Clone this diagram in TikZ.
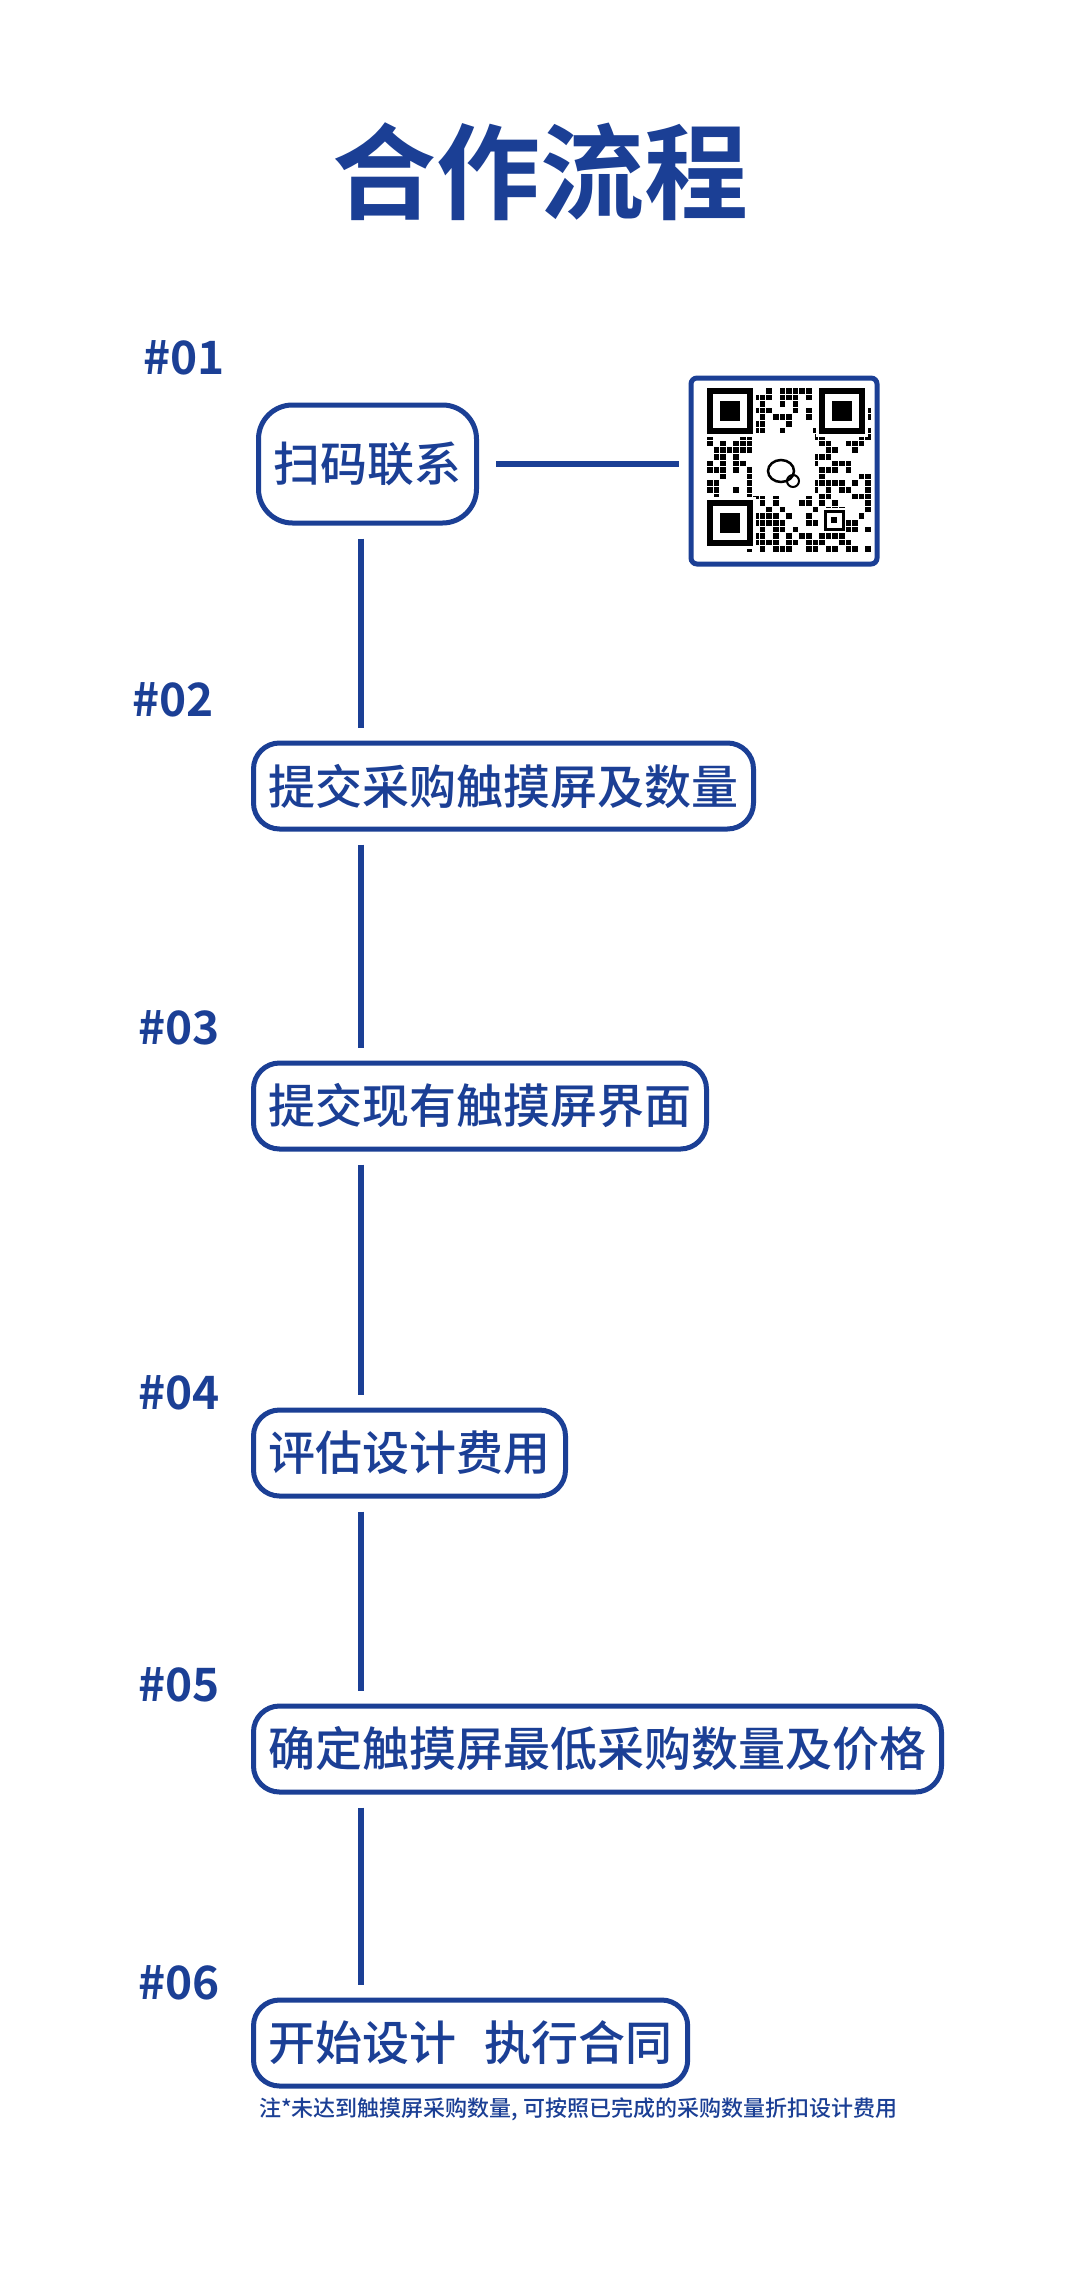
\documentclass[tikz,border=0pt]{standalone}
\usepackage{fontspec}
\setmainfont{Noto Sans CJK SC Medium}
\newfontfamily\cjkbold{Noto Sans CJK SC Bold}
\usetikzlibrary{calc,positioning}
\definecolor{navy}{HTML}{1B3F95}
\tikzset{
  stage/.style={draw=navy, line width=5pt, rounded corners=26pt, text=navy,
    font=\fontsize{47}{50}\selectfont, inner xsep=15pt, anchor=west, minimum height=86pt},
  num/.style={text=navy, font=\cjkbold\fontsize{46}{50}\selectfont, inner sep=0pt},
  link/.style={draw=navy, line width=6pt, shorten >=13pt, shorten <=13pt}
}
\begin{document}
\begin{tikzpicture}[x=1pt,y=-1pt]
\useasboundingbox[fill=white] (0,0) rectangle (1080,2282);
\coordinate (L) at (361,0);

\node[text=navy, font=\cjkbold\fontsize{104}{110}\selectfont] (title) at (540,172) {合作流程};

% stages
\node[stage, minimum height=118pt, minimum width=212pt, rounded corners=34pt] (s1) at (256,464) {扫码联系};
\node[stage] (s2) at (251,786) {提交采购触摸屏及数量};
\node[stage] (s3) at (251,1106) {提交现有触摸屏界面};
\node[stage] (s4) at (251,1453) {评估设计费用};
\node[stage] (s5) at (251,1749) {确定触摸屏最低采购数量及价格};
\node[stage] (s6) at (251,2043) {开始设计\hspace{0.6em}执行合同};

\foreach \i/\x/\y in {1/184/358, 2/173/700, 3/179/1028, 4/179/1393, 5/179/1685, 6/179/1983}{
  \node[num] (n\i) at (\x,\y) {\#0\i};
}

\node[text=navy, font=\fontsize{22}{24}\selectfont, anchor=west, inner sep=0pt] (note) at (259,2109)
  {注*未达到触摸屏采购数量, 可按照已完成的采购数量折扣设计费用};

% connectors
\foreach \a/\b in {1/2, 2/3, 3/4, 4/5, 5/6}{
  \draw[link] (s\a.south -| L) -- (s\b.north -| L);
}

% qr code
\node[draw=navy, line width=5pt, rounded corners=6pt, minimum width=186pt, minimum height=186pt, inner sep=0pt] (qr) at (784,471) {};
\draw[link, shorten <=17pt, shorten >=10pt] (s1.east) -- (qr.west |- s1.east);
\pgfmathsetseed{7}
\foreach \r in {0,...,24}{
  \foreach \c in {0,...,24}{
    \pgfmathrandominteger{\v}{0}{1}
    \ifnum\v=0
      \fill (707+\c*6.6,388+\r*6.6) rectangle ++(5.6,5.6);
    \fi
  }
}
\fill[white] (753,434) rectangle (815,496);
\foreach \fx/\fy in {707/388, 819/388, 707/500}{
  \fill[white] (\fx-3,\fy-3) rectangle ++(52,52);
  \fill (\fx,\fy) rectangle ++(46,46);
  \fill[white] (\fx+6,\fy+6) rectangle ++(34,34);
  \fill (\fx+13,\fy+13) rectangle ++(20,20);
}
\fill[white] (822,508) rectangle ++(24,24);
\draw[line width=3pt] (825,511) rectangle ++(18,18);
\fill (831,517) rectangle ++(6,6);
\draw[line width=2.5pt] (781,471) ellipse (13pt and 11pt);
\draw[line width=2pt] (793,481) circle (6pt);
\end{tikzpicture}
\end{document}
